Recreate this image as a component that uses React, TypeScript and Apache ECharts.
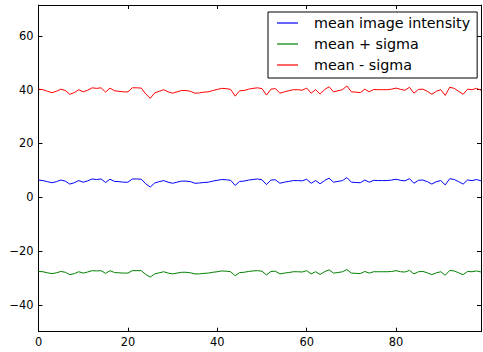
import React, { useEffect, useRef } from "react";
import * as echarts from "echarts";

const seriesNames = ["mean image intensity", "mean + sigma", "mean - sigma"];
const seriesColors = ["#0000ff", "#008000", "#ff0000"];

const meanIntensity = [
  6.4, 6.2, 5.8, 5.4, 5.8, 6.4, 6.0, 4.9, 5.4, 6.2,
  5.6, 6.1, 6.8, 6.6, 6.8, 5.5, 6.7, 5.9, 5.8, 5.6,
  5.6, 6.8, 6.8, 6.7, 5.0, 3.8, 5.3, 5.8, 6.2, 5.6,
  5.2, 5.6, 6.0, 6.0, 5.8, 5.2, 5.3, 5.5, 5.6, 6.0,
  6.3, 6.6, 6.5, 6.3, 4.4, 5.9, 6.0, 6.4, 6.6, 6.8,
  6.5, 4.7, 6.4, 6.5, 5.2, 5.6, 5.9, 6.2, 6.2, 6.1,
  6.7, 5.2, 6.2, 5.0, 6.2, 7.1, 5.6, 5.9, 6.2, 7.3,
  5.6, 5.5, 5.4, 6.4, 5.6, 6.3, 6.2, 6.2, 6.2, 6.4,
  6.7, 6.3, 6.1, 6.9, 5.2, 6.3, 6.4, 5.8, 4.9, 5.8,
  6.2, 4.6, 6.9, 6.6, 5.8, 4.9, 6.4, 6.2, 6.6, 6.1,
];

const meanPlusSigma = [
  -27.6, -27.7, -28.1, -28.4, -28.1, -27.6, -27.9, -28.8, -28.4, -27.7,
  -28.2, -27.8, -27.3, -27.4, -27.3, -28.3, -27.3, -28.0, -28.1, -28.2,
  -28.2, -27.3, -27.3, -27.3, -28.7, -29.7, -28.5, -28.1, -27.7, -28.2,
  -28.5, -28.2, -27.9, -27.9, -28.1, -28.5, -28.5, -28.3, -28.2, -27.9,
  -27.7, -27.4, -27.5, -27.7, -29.2, -28.0, -27.9, -27.6, -27.4, -27.3,
  -27.5, -28.9, -27.6, -27.5, -28.5, -28.2, -28.0, -27.7, -27.7, -27.8,
  -27.3, -28.5, -27.7, -28.7, -27.7, -27.0, -28.2, -28.0, -27.7, -26.9,
  -28.2, -28.3, -28.4, -27.6, -28.2, -27.7, -27.7, -27.7, -27.7, -27.6,
  -27.3, -27.7, -27.8, -27.2, -28.5, -27.7, -27.6, -28.1, -28.8, -28.1,
  -27.7, -29.0, -27.2, -27.4, -28.1, -28.8, -27.6, -27.7, -27.4, -27.8,
];

const meanMinusSigma = [
  40.2, 40.0, 39.4, 38.9, 39.4, 40.2, 39.7, 38.3, 38.9, 40.0,
  39.2, 39.8, 40.7, 40.5, 40.7, 39.1, 40.6, 39.6, 39.4, 39.2,
  39.2, 40.7, 40.7, 40.6, 38.4, 36.8, 38.8, 39.4, 40.0, 39.2,
  38.7, 39.2, 39.7, 39.7, 39.4, 38.7, 38.8, 39.1, 39.2, 39.7,
  40.1, 40.5, 40.4, 40.1, 37.6, 39.6, 39.7, 40.2, 40.5, 40.7,
  40.4, 38.0, 40.2, 40.4, 38.7, 39.2, 39.6, 40.0, 40.0, 39.8,
  40.6, 38.7, 40.0, 38.4, 40.0, 41.1, 39.2, 39.6, 40.0, 41.4,
  39.2, 39.1, 38.9, 40.2, 39.2, 40.1, 40.0, 40.0, 40.0, 40.2,
  40.6, 40.1, 39.8, 40.9, 38.7, 40.1, 40.2, 39.4, 38.3, 39.4,
  40.0, 37.9, 40.9, 40.5, 39.4, 38.3, 40.2, 40.0, 40.5, 39.8,
];

const xTicks = [0, 20, 40, 60, 80];
const yTicks = [-40, -20, 0, 20, 40, 60];
const xMin = 0;
const xMax = 99;
const yMin = -50;
const yMax = 71.5;

const FONT = "'DejaVu Sans', sans-serif";

export default function App() {
  const ref = useRef<HTMLDivElement>(null);

  useEffect(() => {
    if (!ref.current) return;
    const chart = echarts.init(ref.current, null, { renderer: "svg" });
    const allSeries = [meanIntensity, meanPlusSigma, meanMinusSigma];

    const tickStyle = { inside: true, length: 4, lineStyle: { color: "#000", width: 1 } };
    const axisLine = { show: true, onZero: false, lineStyle: { color: "#000", width: 1 } };

    chart.setOption({
      animation: false,
      backgroundColor: "#fff",
      grid: { left: 38.5, right: 2, top: 5, bottom: 20.3, containLabel: false },
      legend: {
        orient: "vertical",
        left: 268,
        top: 12,
        icon: "rect",
        itemWidth: 21,
        itemHeight: 1.2,
        itemGap: 7,
        padding: [4, 7, 6, 9],
        borderColor: "#000",
        borderWidth: 1,
        backgroundColor: "#fff",
        textStyle: {
          fontFamily: FONT,
          fontSize: 14.3,
          color: "#000",
          lineHeight: 14,
          padding: [0, 0, 0, 11],
        },
        data: seriesNames,
      },
      xAxis: [
        {
          type: "value",
          min: xMin,
          max: xMax,
          position: "bottom",
          axisLine,
          axisTick: { ...tickStyle, customValues: xTicks },
          splitLine: { show: false },
          axisLabel: {
            customValues: xTicks,
            margin: 5,
            fontFamily: FONT,
            fontSize: 11.4,
            color: "#000",
          },
        },
        {
          type: "value",
          min: xMin,
          max: xMax,
          position: "top",
          axisLine,
          axisTick: { ...tickStyle, customValues: xTicks },
          splitLine: { show: false },
          axisLabel: { show: false },
        },
      ],
      yAxis: [
        {
          type: "value",
          min: yMin,
          max: yMax,
          position: "left",
          axisLine,
          axisTick: { ...tickStyle, customValues: yTicks },
          splitLine: { show: false },
          axisLabel: {
            customValues: yTicks,
            margin: 5,
            fontFamily: FONT,
            fontSize: 11.4,
            color: "#000",
            formatter: (v: number) => String(v).replace("-", "\u2212"),
          },
        },
        {
          type: "value",
          min: yMin,
          max: yMax,
          position: "right",
          axisLine,
          axisTick: { ...tickStyle, customValues: yTicks },
          splitLine: { show: false },
          axisLabel: { show: false },
        },
      ],
      series: allSeries.map((arr, k) => ({
        name: seriesNames[k],
        type: "line",
        xAxisIndex: 0,
        yAxisIndex: 0,
        symbol: "none",
        showSymbol: false,
        color: seriesColors[k],
        lineStyle: { color: seriesColors[k], width: 1 },
        data: arr.map((v, i) => [i, v]),
      })),
    });

    return () => chart.dispose();
  }, []);

  return (
    <div
      ref={ref}
      style={{ position: "fixed", left: 0, top: 0, width: 483, height: 352, background: "#fff" }}
    />
  );
}
